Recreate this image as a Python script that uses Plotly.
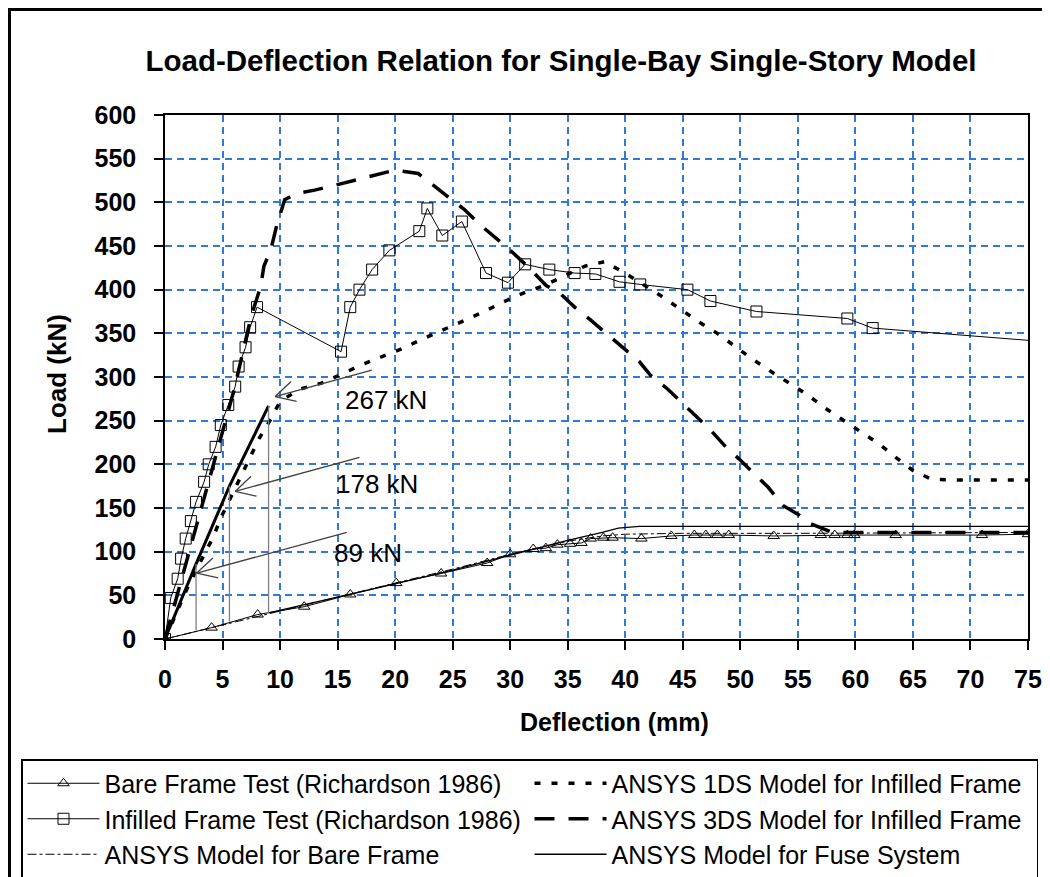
import math
import plotly.graph_objects as go

# ---------------- data ----------------
bare_test_x = [0, 4.05, 8.05, 12.1, 16.1, 20.1, 24.0, 28.0, 30.0, 32.0, 33.1, 34.1, 35.2, 36.2, 37.0,
               38.1, 38.9, 41.4, 44.0, 46.0, 47.0, 48.0, 49.0, 52.9, 57.0, 58.2, 59.3, 59.9, 63.5, 71.0, 75.0]
bare_test_y = [0, 13, 28, 37, 51, 64, 75, 87, 97, 103, 104, 108, 109, 110, 115,
               116, 116, 115, 118, 119, 119, 119, 119, 118, 119, 119, 119, 119, 119, 119, 120]

infill_test_x = [0, 0.5, 1.1, 1.4, 1.8, 2.25, 2.7, 3.4, 3.8, 4.4, 4.85, 5.5, 6.1, 6.4, 7.0, 7.4, 8.0,
                 15.3, 16.1, 16.9, 18.0, 19.5, 22.1, 22.8, 24.1, 25.8, 27.9, 29.8, 31.3, 33.4, 35.6,
                 37.4, 39.5, 41.3, 45.4, 47.4, 51.4, 59.3, 61.5, 75.0]
infill_test_y = [0, 47, 69, 92, 115, 135, 157, 180, 200, 220, 245, 268, 289, 312, 334, 357, 380,
                 329, 380, 400, 423, 445, 467, 493, 462, 478, 419, 408, 429, 423, 419,
                 418, 409, 406, 400, 387, 375, 367, 356, 342]

bare_model_x = [0, 5, 10, 15, 20, 25, 30, 35, 38, 40, 45, 55, 75]
bare_model_y = [0, 16, 32, 48, 64, 80, 97, 112, 118, 120, 121, 121, 122]

ds1_x = [0, 1.0, 2.0, 3.3, 4.2, 4.9, 6.5, 7.3, 8.2, 9.2, 10.0, 11.7, 13.6, 15.3, 17.1, 18.8, 20.7,
         22.3, 24.2, 25.9, 27.6, 29.4, 31.3, 33.0, 34.7, 36.5, 38.2, 40.1, 43.1, 44.7, 46.4, 48.0,
         49.5, 51.1, 52.7, 54.3, 55.9, 57.3, 58.9, 60.5, 62.1, 63.5, 65.0, 66.6, 68.6, 75.0]
ds1_y = [0, 30, 60, 94, 117, 140, 183, 206, 230, 252, 272, 286, 293, 303, 314, 323, 333,
         343, 354, 364, 374, 386, 397, 405, 416, 427, 432, 418, 393, 378, 363, 350,
         335, 320, 306, 292, 279, 265, 251, 236, 223, 208, 193, 183, 182, 182]

ds3_x = [0, 3.0, 6.0, 7.5, 8.3, 8.6, 9.2, 9.7, 10.1, 10.4, 11.4, 13.0, 14.9, 16.4, 18.4, 20.0, 22.0,
         23.3, 24.9, 26.0, 27.5, 28.9, 30.1, 31.8, 33.1, 34.4, 35.6, 37.0, 38.5, 39.6, 41.2, 42.2,
         43.7, 47.5, 48.8, 49.9, 51.2, 52.4, 53.7, 55.1, 56.1, 57.0, 58.0, 65.0, 75.0]
ds3_y = [0, 142, 285, 370, 403, 427, 446, 473, 492, 503, 510, 514, 520, 525, 531, 537, 533,
         520, 503, 492, 473, 458, 444, 423, 405, 395, 380, 365, 348, 335, 318, 302,
         286, 238, 219, 206, 189, 174, 153, 142, 132, 127, 122, 122, 122]

# Fuse system: loading branch, fuse drops, and post-fuse branch
fuse_up_x = [0, 2.7, 5.6, 9.0]
fuse_up_y = [0, 86, 175, 267]
fuse_drop_x = [2.7, 2.7, None, 5.6, 5.6, None, 9.0, 9.0]
fuse_drop_y = [86, 10, None, 175, 20, None, 267, 30]
fuse_post_x = [9.0, 15, 20, 25, 30, 35, 38, 39.4, 41.2, 75]
fuse_post_y = [30, 48, 63, 79, 96, 113, 122, 127, 129, 129]

# fuse capacity labels and arrows (tail -> tip)
fuse_labels = ["267 kN", "178 kN", "89 kN"]
label_x = [19.2, 18.4, 17.6]
label_y = [274, 178, 98]
arrow_tail_x = [17.97, 16.9, 15.8]
arrow_tail_y = [308, 208, 122]
arrow_tip_x = [9.57, 6.09, 2.76]
arrow_tip_y = [277.6, 169, 75.5]

x_ticks = list(range(0, 80, 5))
y_ticks = list(range(0, 650, 50))

# ---------------- layout geometry ----------------
OFF = 8                     # the page body margin shifts the figure by 8 px
W, H = 1050 - OFF, 877 - OFF
ML, MR, MT, MB = 165 - OFF, 22, 115 - OFF, 238
PW, PH = W - ML - MR, H - MT - MB
SX = PW / 75.0      # px per mm
SY = PH / 600.0     # px per kN

FONT = "Liberation Sans, Arial, sans-serif"
GRID = "#2f7ad8"


def px_to_paper_x(px):      # px: window coordinate
    return (px - OFF - ML) / PW


def px_to_paper_y(py):
    return (H - MB - (py - OFF)) / PH


fig = go.Figure()

fig.add_trace(go.Scatter(
    x=bare_test_x, y=bare_test_y, mode="lines+markers",
    name="Bare Frame Test (Richardson 1986)",
    line=dict(color="black", width=1),
    marker=dict(symbol="triangle-up-open", size=10, color="black", line=dict(width=1))))

fig.add_trace(go.Scatter(
    x=ds1_x, y=ds1_y, mode="lines", name="ANSYS 1DS Model for Infilled Frame",
    line=dict(color="black", width=3.5, dash="6px,11px")))

infill_opacity = [1] * (len(infill_test_x) - 1) + [0]
fig.add_trace(go.Scatter(
    x=infill_test_x, y=infill_test_y, mode="lines+markers",
    name="Infilled Frame Test (Richardson 1986)",
    line=dict(color="black", width=1),
    marker=dict(symbol="square-open", size=11, color="black", opacity=infill_opacity,
                line=dict(width=1))))

fig.add_trace(go.Scatter(
    x=ds3_x, y=ds3_y, mode="lines", name="ANSYS 3DS Model for Infilled Frame",
    line=dict(color="black", width=3.5, dash="20px,14px")))

fig.add_trace(go.Scatter(
    x=bare_model_x, y=bare_model_y, mode="lines", name="ANSYS Model for Bare Frame",
    line=dict(color="black", width=1, dash="dashdot")))

fig.add_trace(go.Scatter(
    x=fuse_post_x, y=fuse_post_y, mode="lines", name="ANSYS Model for Fuse System",
    line=dict(color="black", width=1.3)))

fig.add_trace(go.Scatter(
    x=fuse_up_x, y=fuse_up_y, mode="lines", showlegend=False,
    line=dict(color="black", width=3)))

fig.add_trace(go.Scatter(
    x=fuse_drop_x, y=fuse_drop_y, mode="lines", showlegend=False,
    line=dict(color="#808080", width=1.3)))

# arrows with open V heads (computed in pixel space)
shapes = []
for tx, ty, hx, hy in zip(arrow_tail_x, arrow_tail_y, arrow_tip_x, arrow_tip_y):
    shapes.append(dict(type="line", xref="x", yref="y", x0=tx, y0=ty, x1=hx, y1=hy,
                       line=dict(color="#404040", width=1.3)))
    dx, dy = (tx - hx) * SX, (ty - hy) * SY
    L = math.hypot(dx, dy)
    ux, uy = dx / L, dy / L
    for sgn in (1, -1):
        a = math.radians(28) * sgn
        vx = ux * math.cos(a) - uy * math.sin(a)
        vy = ux * math.sin(a) + uy * math.cos(a)
        shapes.append(dict(type="line", xref="x", yref="y", x0=hx, y0=hy,
                           x1=hx + vx * 22 / SX, y1=hy + vy * 22 / SY,
                           line=dict(color="#404040", width=1.3)))

# outer frame of the whole figure
shapes.append(dict(type="rect", xref="paper", yref="paper",
                   x0=px_to_paper_x(9.5), x1=px_to_paper_x(1046),
                   y0=px_to_paper_y(890), y1=px_to_paper_y(9.5),
                   line=dict(color="black", width=3), layer="below"))

annotations = []
for t, lx, ly in zip(fuse_labels, label_x, label_y):
    annotations.append(dict(x=lx, y=ly, xref="x", yref="y", text=t, showarrow=False,
                            xanchor="center", yanchor="middle",
                            font=dict(family=FONT, size=26, color="black")))

annotations.append(dict(x=px_to_paper_x(57), y=px_to_paper_y(374), xref="paper", yref="paper",
                        text="<b>Load (kN)</b>", showarrow=False, textangle=-90,
                        xanchor="center", yanchor="middle",
                        font=dict(family=FONT, size=26, color="black")))
annotations.append(dict(x=px_to_paper_x(614), y=px_to_paper_y(722), xref="paper", yref="paper",
                        text="<b>Deflection (mm)</b>", showarrow=False,
                        xanchor="center", yanchor="middle",
                        font=dict(family=FONT, size=25, color="black")))

fig.update_layout(
    width=W, height=H,
    margin=dict(l=ML, r=MR, t=MT, b=MB, autoexpand=False),
    paper_bgcolor="white", plot_bgcolor="white",
    title=dict(text="<b>Load-Deflection Relation for Single-Bay Single-Story Model</b>",
               x=(561 - OFF) / W, xanchor="center", xref="container",
               y=1 - (61 - OFF) / H, yanchor="middle", yref="container",
               font=dict(family=FONT, size=29.5, color="black")),
    xaxis=dict(range=[0, 75], tickvals=x_ticks, ticktext=[str(v) for v in x_ticks],
               showgrid=True, gridcolor=GRID, gridwidth=2, griddash="7px,5px",
               zeroline=False, showline=True, linecolor="black", linewidth=1.5, mirror=True,
               ticks="outside", ticklen=9, tickcolor="black", tickwidth=1.5,
               ticklabelstandoff=8,
               tickfont=dict(family=FONT, size=25, color="black", weight="bold")),
    yaxis=dict(range=[0, 600], tickvals=y_ticks, ticktext=[str(v) for v in y_ticks],
               showgrid=True, gridcolor=GRID, gridwidth=2, griddash="7px,5px",
               zeroline=False, showline=True, linecolor="black", linewidth=1.5, mirror=True,
               ticks="outside", ticklen=9, tickcolor="black", tickwidth=1.5,
               ticklabelstandoff=13,
               tickfont=dict(family=FONT, size=25, color="black", weight="bold")),
    legend=dict(orientation="h", x=px_to_paper_x(21), y=px_to_paper_y(759),
                xanchor="left", yanchor="top", xref="paper", yref="paper",
                entrywidth=420, entrywidthmode="pixels", itemwidth=72,
                bordercolor="black", borderwidth=1.5, bgcolor="white",
                traceorder="normal",
                font=dict(family=FONT, size=25, color="black")),
    shapes=shapes,
    annotations=annotations,
)

fig.write_html("out.html")
